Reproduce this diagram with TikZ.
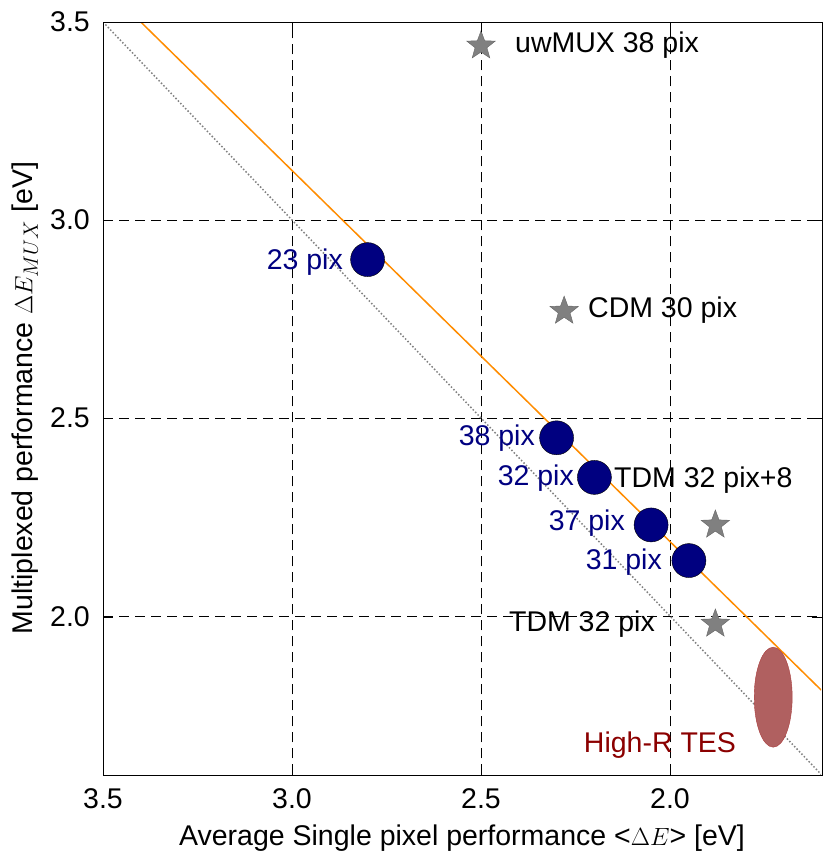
\documentclass[tikz,border=0pt]{standalone}
\usepackage{fontspec}
\setmainfont{Liberation Sans}
\usetikzlibrary{shapes.geometric}
\definecolor{navy}{HTML}{000080}
\definecolor{orng}{HTML}{FF8C00}
\begin{document}
\begin{tikzpicture}[x=1pt,y=1pt,
  lbl/.style={font=\fontsize{28.5}{31}\selectfont,inner sep=0},
  pt/.style={circle,draw=black,fill=navy,minimum size=34pt,inner sep=0},
  st/.style={star,star points=5,star point ratio=2.4,draw=black!60,fill=gray,minimum size=30pt,inner sep=0},
  grid/.style={black,line width=0.8pt,dash pattern=on 10pt off 6pt}]
\useasboundingbox (0,0) rectangle (830,-865);
\begin{scope}[shift={(1426pt,-1408pt)},x={(-378pt,0pt)},y={(0pt,396pt)}]
  \clip (3.5,1.6) rectangle (1.6,3.5);
  \foreach \v in {3.0,2.5,2.0} \draw[grid] (\v,1.6) -- (\v,3.5);
  \foreach \w in {3.0,2.5,2.0} \draw[grid] (3.5,\w) -- (1.6,\w);
  \draw[gray,dotted,line width=1.5pt] (3.5,3.5) -- (1.6,1.6);
  \draw[orng,line width=1.5pt] (3.4,3.5) -- (1.6,1.813);
  \node[ellipse,draw={rgb,255:red,170;green,60;blue,60},fill={rgb,255:red,176;green,96;blue,96},minimum width=38pt,minimum height=100pt,inner sep=0] (tes) at (1.727,1.795) {};
  \node[pt] (p23) at (2.8,2.9) {};
  \node[pt] (p38) at (2.3,2.45) {};
  \node[pt] (p32) at (2.2,2.35) {};
  \node[pt] (p37) at (2.05,2.23) {};
  \node[pt] (p31) at (1.95,2.14) {};
  \node[st] (s1) at (2.5,3.44) {};
  \node[st] (s2) at (2.28,2.77) {};
  \node[st] (s3) at (1.88,2.23) {};
  \node[st] (s4) at (1.88,1.98) {};
\end{scope}
\draw[black,line width=1pt] (103,-22) rectangle (822,-775);
\foreach \x/\t in {103/3.5,292/3.0,481/2.5,670/2.0} {
  \draw (\x,-775) -- (\x,-765); \draw (\x,-22) -- (\x,-32);
  \node[lbl,anchor=north] (xt\x) at (\x,-788) {\t};}
\foreach \y/\t in {22/3.5,220/3.0,418/2.5,617/2.0} {
  \draw (103,-\y) -- (113,-\y); \draw (822,-\y) -- (812,-\y);
  \node[lbl,anchor=east] (yt\y) at (90,-\y) {\t};}
\node[lbl,text=navy,anchor=east] (l23) at (343,-262) {23 pix};
\node[lbl,text=navy,anchor=east] (l38) at (535,-438) {38 pix};
\node[lbl,text=navy,anchor=east] (l32) at (574,-478) {32 pix};
\node[lbl,text=navy,anchor=east] (l37) at (625,-523) {37 pix};
\node[lbl,text=navy,anchor=east] (l31) at (662,-562) {31 pix};
\node[lbl,anchor=west] (lu) at (515,-45) {uwMUX 38 pix};
\node[lbl,anchor=west] (lc) at (588,-310) {CDM 30 pix};
\node[lbl,anchor=west] (lt8) at (614,-480) {TDM 32 pix+8};
\node[lbl,anchor=east] (lt) at (655,-624) {TDM 32 pix};
\node[lbl,text={rgb,255:red,139;green,0;blue,0}] (lh) at (660,-745) {High-R TES};
\node[lbl] (xl) at (462,-838) {Average Single pixel performance <$\Delta E$> [eV]};
\node[lbl,rotate=90] (yl) at (25,-398) {Multiplexed performance $\Delta E_{MUX}$ [eV]};
\end{tikzpicture}
\end{document}
